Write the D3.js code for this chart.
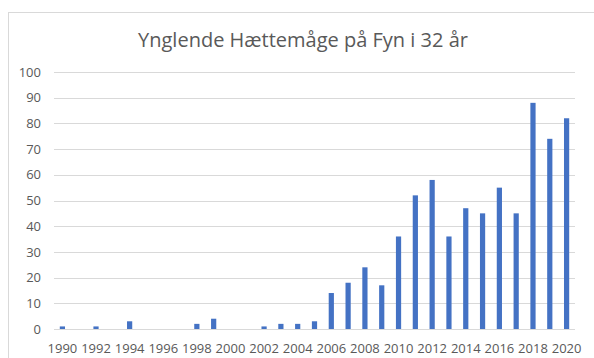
<!DOCTYPE html>
<html>
<head>
<meta charset="utf-8">
<script src="https://cdn.jsdelivr.net/npm/d3@7"></script>
<style>
  html, body { margin: 0; padding: 0; background: #fff; }
  svg { display: block; }
  svg text { font-family: "Open Sans", "Liberation Sans", sans-serif; }
</style>
</head>
<body>
<svg id="chart" width="594" height="358"></svg>
<script>
// Breeding black-headed gulls on Funen, counts per year
const years = d3.range(1990, 2021);
const pairs = [1, 0, 1, 0, 3, 0, 0, 0, 2, 4, 0, 0, 1, 2, 2, 3,
               14, 18, 24, 17, 36, 52, 58, 36, 47, 45, 55, 45, 88, 74, 82];
const yTicks = [0, 10, 20, 30, 40, 50, 60, 70, 80, 90, 100];
const xTickLabels = years.filter(y => y % 2 === 0);
const title = "Ynglende Hættemåge på Fyn i 32 år";

const svg = d3.select("#chart");
const textColor = "#595959";
const gridColor = "#d9d9d9";
const barColor = "#4472c4";
const fontStack = '"Open Sans", "Liberation Sans", sans-serif';

// chart area frame
svg.append("rect")
  .attr("x", 8.5).attr("y", 12.5)
  .attr("width", 600).attr("height", 400)
  .attr("fill", "#fff")
  .attr("stroke", gridColor).attr("stroke-width", 1);

const plot = { left: 54, right: 575, top: 72, bottom: 329 };

const x = d3.scaleBand()
  .domain(years)
  .range([plot.left, plot.right])
  .paddingInner(0.69)
  .paddingOuter(0.345);

const y = d3.scaleLinear()
  .domain([0, 100])
  .range([plot.bottom, plot.top]);

// horizontal gridlines
svg.append("g")
  .selectAll("line")
  .data(yTicks.filter(t => t > 0))
  .join("line")
  .attr("x1", plot.left).attr("x2", plot.right)
  .attr("y1", d => Math.round(y(d)) + 0.5)
  .attr("y2", d => Math.round(y(d)) + 0.5)
  .attr("stroke", gridColor).attr("stroke-width", 1);

// y axis labels
const yAxis = svg.append("g")
  .attr("transform", `translate(${plot.left},0)`)
  .call(d3.axisLeft(y).tickValues(yTicks).tickSize(0).tickPadding(13));
yAxis.attr("font-family", fontStack).attr("font-size", 13);
yAxis.select(".domain").remove();
yAxis.selectAll("text").attr("fill", textColor);

// bars
svg.append("g")
  .selectAll("rect")
  .data(years.map((yr, i) => ({ yr, v: pairs[i] })))
  .join("rect")
  .attr("x", d => x(d.yr))
  .attr("width", x.bandwidth())
  .attr("y", d => y(d.v))
  .attr("height", d => y(0) - y(d.v))
  .attr("fill", barColor);

// x axis
const xAxis = svg.append("g")
  .attr("transform", `translate(0,${plot.bottom})`)
  .call(d3.axisBottom(x).tickValues(xTickLabels).tickSize(0).tickPadding(14.5));
xAxis.attr("font-family", fontStack).attr("font-size", 13);
xAxis.select(".domain")
  .attr("d", `M${plot.left},0.5H${plot.right}`)
  .attr("stroke", gridColor);
xAxis.selectAll("text").attr("fill", textColor);

// title
svg.append("text")
  .attr("x", 303)
  .attr("y", 47)
  .attr("text-anchor", "middle")
  .attr("fill", textColor)
  .style("font-size", "20px")
  .text(title);
</script>
</body>
</html>
